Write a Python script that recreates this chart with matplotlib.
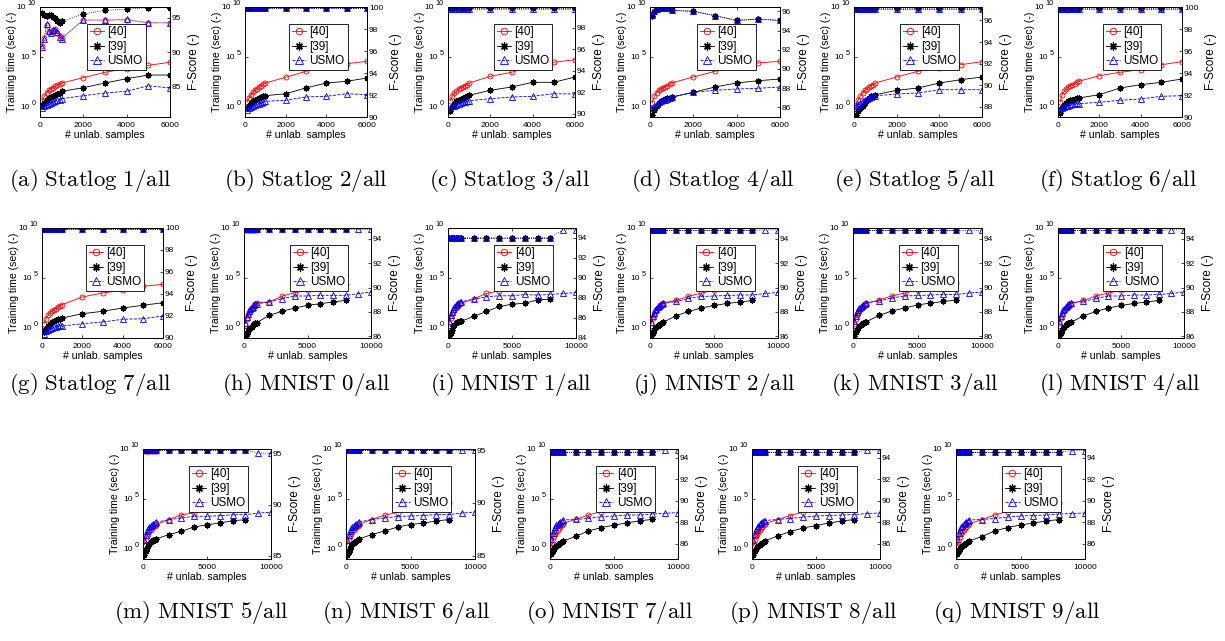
import numpy as np
import matplotlib
matplotlib.use("Agg")
import matplotlib.pyplot as plt
from matplotlib.ticker import NullLocator

plt.rcParams['font.family'] = ['Liberation Sans', 'DejaVu Sans']

# number of unlabelled samples
x_statlog = [100, 200, 300, 400, 500, 600, 700, 800, 900, 1000, 2000, 3000, 4000, 5000, 6000]
x_mnist = [100, 200, 300, 400, 500, 600, 700, 800, 900, 1000, 2000, 3000, 4000, 5000, 6000, 7000, 8000]
x_mnist_usmo = [100, 200, 300, 400, 500, 600, 700, 800, 900, 1000, 2000, 3000, 4000, 5000, 6000, 7000,
                8000, 9000, 10000]

captions = ['(a) Statlog 1/all', '(b) Statlog 2/all', '(c) Statlog 3/all', '(d) Statlog 4/all',
            '(e) Statlog 5/all', '(f) Statlog 6/all', '(g) Statlog 7/all', '(h) MNIST 0/all',
            '(i) MNIST 1/all', '(j) MNIST 2/all', '(k) MNIST 3/all', '(l) MNIST 4/all',
            '(m) MNIST 5/all', '(n) MNIST 6/all', '(o) MNIST 7/all', '(p) MNIST 8/all', '(q) MNIST 9/all']
methods = ['[40]', '[39]', 'USMO']

# training time, log10(sec)  /  F-score (-)
a_t40 = [0.57, 1.07, 1.4, 1.67, 1.8, 1.93, 2.07, 2.17, 2.27, 2.4, 2.93, 3.47, 3.83, 4.17, 4.47]
a_t39 = [0.13, 0.4, 0.67, 0.87, 1.0, 1.13, 1.23, 1.33, 1.43, 1.57, 1.93, 2.4, 2.83, 3.2, 3.2]
a_tus = [-0.1, 0.07, 0.23, 0.33, 0.4, 0.5, 0.57, 0.67, 0.73, 0.83, 1.13, 1.4, 1.57, 2.13, 1.9]
a_f40 = [90.9, 92.1, 94.0, 93.0, 92.9, 93.2, 93.4, 92.8, 92.4, 92.1, 94.7, 94.7, 94.7, 94.3, 94.3]
a_f39 = [95.7, 95.5, 95.3, 95.5, 95.5, 95.2, 95.0, 94.5, 94.3, 94.5, 95.6, 96.1, 96.3, 96.5, 96.5]
a_fus = [90.8, 92.0, 94.1, 93.1, 92.8, 93.3, 93.3, 92.9, 92.3, 92.0, 94.7, 94.7, 94.8, 94.3, 94.3]

b_t40 = [0.47, 0.9, 1.23, 1.47, 1.73, 1.8, 2.0, 2.13, 2.3, 2.4, 2.97, 3.57, 4.07, 4.33, 4.57]
b_t39 = [-0.1, 0.13, 0.4, 0.57, 0.67, 0.8, 0.9, 1.0, 1.07, 1.13, 1.33, 1.9, 2.4, 2.57, 2.9]
b_tus = [-0.27, -0.1, 0.0, 0.13, 0.2, 0.27, 0.33, 0.4, 0.47, 0.57, 0.67, 1.0, 1.07, 1.33, 1.23]
b_f40 = [99.9, 99.9, 99.9, 99.9, 99.9, 99.9, 99.9, 99.9, 99.9, 99.9, 99.9, 99.9, 99.9, 99.9, 99.9]
b_f39 = [99.95, 99.95, 99.95, 99.95, 99.95, 99.95, 99.95, 99.95, 99.95, 99.95, 99.95, 99.95, 99.95, 99.95, 99.95]
b_fus = [99.9, 99.9, 99.9, 99.9, 99.9, 99.9, 99.9, 99.9, 99.9, 99.9, 99.9, 99.9, 99.9, 99.9, 99.9]

c_t40 = [0.57, 1.07, 1.4, 1.57, 1.8, 1.9, 2.0, 2.13, 2.23, 2.4, 3.07, 3.47, 4.07, 4.47, 4.73]
c_t39 = [-0.43, 0.0, 0.33, 0.57, 0.73, 0.8, 0.9, 1.0, 1.07, 1.17, 1.67, 2.0, 2.47, 2.47, 3.0]
c_tus = [-0.1, 0.07, 0.13, 0.23, 0.33, 0.4, 0.47, 0.53, 0.6, 0.63, 0.83, 1.0, 1.07, 1.33, 1.3]
c_f40 = [99.85, 99.85, 99.85, 99.85, 99.85, 99.85, 99.85, 99.85, 99.85, 99.85, 99.85, 99.85, 99.85, 99.85, 99.85]
c_f39 = [99.85, 99.85, 99.85, 99.85, 99.85, 99.85, 99.85, 99.85, 99.85, 99.85, 99.85, 99.85, 99.85, 99.85, 99.85]
c_fus = [99.8, 99.8, 99.8, 99.8, 99.8, 99.8, 99.8, 99.8, 99.8, 99.8, 99.8, 99.8, 99.8, 99.8, 99.8]

d_t40 = [0.4, 1.07, 1.4, 1.67, 1.8, 1.9, 2.0, 2.13, 2.27, 2.4, 3.0, 3.57, 3.97, 4.4, 4.57]
d_t39 = [-0.77, -0.27, 0.13, 0.4, 0.57, 0.73, 0.8, 0.87, 0.93, 1.0, 1.47, 2.0, 2.4, 2.63, 2.8]
d_tus = [-0.1, 0.13, 0.33, 0.47, 0.57, 0.67, 0.73, 0.8, 0.87, 0.97, 1.47, 1.67, 1.8, 1.87, 2.0]
d_f40 = [95.55, 96.0, 96.2, 96.25, 96.35, 96.35, 96.35, 96.35, 96.35, 96.1, 96.0, 95.55, 95.05, 95.2, 95.05]
d_f39 = [95.5, 95.9, 96.2, 96.3, 96.35, 96.35, 96.35, 96.3, 96.3, 96.1, 96.0, 95.55, 95.05, 95.2, 95.05]
d_fus = [95.6, 96.0, 96.2, 96.3, 96.35, 96.35, 96.35, 96.35, 96.3, 96.1, 96.0, 95.55, 95.05, 95.2, 95.05]

e_t40 = [0.23, 0.73, 1.13, 1.4, 1.67, 1.8, 1.97, 2.13, 2.23, 2.4, 3.0, 3.57, 3.9, 4.23, 4.53]
e_t39 = [-0.77, -0.43, -0.1, 0.13, 0.4, 0.73, 0.9, 1.07, 1.13, 1.23, 1.67, 1.9, 2.4, 2.73, 3.0]
e_tus = [0.13, 0.23, 0.4, 0.57, 0.73, 0.8, 0.9, 1.0, 1.07, 1.13, 1.3, 1.4, 1.73, 1.73, 1.73]
e_f40 = [97.1, 97.1, 97.1, 97.1, 97.1, 97.1, 97.1, 97.1, 97.1, 97.1, 97.1, 97.1, 97.1, 97.1, 97.1]
e_f39 = [97.15, 97.15, 97.15, 97.15, 97.15, 97.15, 97.15, 97.15, 97.15, 97.15, 97.15, 97.15, 97.15, 97.15, 97.15]
e_fus = [97.1, 97.1, 97.1, 97.1, 97.1, 97.1, 97.1, 97.1, 97.1, 97.1, 97.1, 97.1, 97.1, 97.1, 97.1]

f_t40 = [0.47, 1.23, 1.57, 1.8, 2.0, 2.13, 2.23, 2.33, 2.47, 2.57, 3.13, 3.47, 3.73, 4.23, 4.53]
f_t39 = [-0.6, -0.1, 0.23, 0.4, 0.57, 0.67, 0.73, 0.8, 0.87, 0.9, 1.23, 1.9, 2.23, 2.47, 2.8]
f_tus = [-0.27, -0.1, 0.0, 0.07, 0.13, 0.2, 0.27, 0.33, 0.4, 0.33, 0.47, 0.67, 0.8, 1.07, 1.13]
f_f40 = [99.85, 99.85, 99.85, 99.85, 99.85, 99.85, 99.85, 99.85, 99.85, 99.85, 99.85, 99.85, 99.85, 99.85, 99.85]
f_f39 = [99.9, 99.9, 99.9, 99.9, 99.9, 99.9, 99.9, 99.9, 99.9, 99.9, 99.9, 99.9, 99.9, 99.9, 99.9]
f_fus = [99.85, 99.85, 99.85, 99.85, 99.85, 99.85, 99.85, 99.85, 99.85, 99.85, 99.85, 99.85, 99.85, 99.85, 99.85]

g_t40 = [0.43, 0.93, 1.27, 1.53, 1.67, 1.8, 1.93, 2.07, 2.2, 2.33, 3.1, 3.5, 3.77, 4.17, 4.37]
g_t39 = [-0.4, -0.07, 0.2, 0.4, 0.6, 0.73, 0.8, 0.87, 0.93, 1.0, 1.43, 1.67, 2.0, 2.27, 2.53]
g_tus = [-0.57, -0.33, -0.2, -0.07, 0.0, 0.07, 0.13, 0.2, 0.27, 0.2, 0.43, 0.6, 0.87, 0.93, 1.2]
g_f40 = [99.9, 99.9, 99.9, 99.9, 99.9, 99.9, 99.9, 99.9, 99.9, 99.9, 99.9, 99.9, 99.9, 99.9, 99.9]
g_f39 = [99.95, 99.95, 99.95, 99.95, 99.95, 99.95, 99.95, 99.95, 99.95, 99.95, 99.95, 99.95, 99.95, 99.95, 99.95]
g_fus = [99.9, 99.9, 99.9, 99.9, 99.9, 99.9, 99.9, 99.9, 99.9, 99.9, 99.9, 99.9, 99.9, 99.9, 99.9]

h_t40 = [0.43, 0.93, 1.27, 1.53, 1.77, 1.93, 2.1, 2.27, 2.43, 2.53, 2.6, 3.2, 3.53, 3.77, 3.93, 4.1, 4.43]
h_t39 = [-0.9, -0.57, -0.33, -0.13, 0.0, 0.13, 0.27, 0.4, 0.47, 0.53, 1.27, 1.67, 2.0, 2.27, 2.43, 2.6, 2.77]
h_tus = [0.53, 1.1, 1.43, 1.67, 1.87, 2.0, 2.13, 2.27, 2.37, 2.43, 2.6, 2.93, 3.2, 3.2, 3.27, 3.27, 3.27, 3.43, 3.6]
h_f40 = [94.75, 94.75, 94.75, 94.75, 94.75, 94.75, 94.75, 94.75, 94.75, 94.75, 94.8, 94.8, 94.8, 94.8, 94.8, 94.8, 94.8]
h_f39 = [94.8, 94.8, 94.8, 94.8, 94.8, 94.8, 94.8, 94.8, 94.8, 94.8, 94.8, 94.8, 94.8, 94.8, 94.8, 94.8, 94.8]
h_fus = [94.8, 94.8, 94.8, 94.8, 94.8, 94.8, 94.8, 94.8, 94.8, 94.8, 94.8, 94.8, 94.8, 94.8, 94.8, 94.8, 94.8,
         94.8, 94.8]

i_t40 = [0.5, 1.0, 1.4, 1.64, 1.81, 1.97, 2.1, 2.24, 2.37, 2.47, 2.9, 3.47, 3.7, 3.95, 4.1, 4.28, 4.6]
i_t39 = [-0.82, -0.49, -0.16, 0.16, 0.33, 0.46, 0.56, 0.59, 0.66, 0.66, 1.15, 1.65, 2.15, 2.38, 2.48, 2.8, 2.9]
i_tus = [0.72, 1.32, 1.64, 1.91, 2.14, 2.3, 2.4, 2.47, 2.57, 2.63, 2.87, 3.13, 3.22, 3.22, 3.35, 3.29, 3.35, 3.45, 3.55]
i_f40 = [94.0, 94.0, 94.0, 94.0, 94.0, 94.0, 94.0, 94.0, 94.0, 94.0, 94.0, 94.0, 94.0, 94.0, 94.0, 94.0, 94.0]
i_f39 = [94.0, 94.0, 94.0, 94.0, 94.0, 94.0, 94.0, 94.0, 94.0, 94.0, 94.0, 94.0, 94.0, 94.0, 94.0, 94.0, 94.0]
i_fus = [94.0, 94.0, 94.0, 94.0, 94.0, 94.0, 94.0, 94.0, 94.0, 94.0, 94.0, 94.0, 94.0, 94.0, 94.0, 94.0, 94.0,
         94.8, 94.8]

j_t40 = [0.45, 0.95, 1.3, 1.55, 1.8, 1.95, 2.1, 2.25, 2.4, 2.5, 2.75, 3.15, 3.5, 3.75, 3.95, 4.1, 4.4]
j_t39 = [-0.85, -0.5, -0.25, -0.05, 0.1, 0.2, 0.3, 0.4, 0.5, 0.55, 1.2, 1.65, 2.0, 2.25, 2.45, 2.6, 2.75]
j_tus = [0.6, 1.15, 1.5, 1.75, 1.9, 2.05, 2.15, 2.3, 2.4, 2.45, 2.65, 2.95, 3.15, 3.2, 3.25, 3.3, 3.3, 3.45, 3.55]
j_f40 = [94.7, 94.7, 94.7, 94.7, 94.7, 94.7, 94.7, 94.7, 94.7, 94.7, 94.7, 94.7, 94.7, 94.7, 94.7, 94.7, 94.7]
j_f39 = [94.7, 94.7, 94.7, 94.7, 94.7, 94.7, 94.7, 94.7, 94.7, 94.7, 94.7, 94.7, 94.7, 94.7, 94.7, 94.7, 94.7]
j_fus = [94.7, 94.7, 94.7, 94.7, 94.7, 94.7, 94.7, 94.7, 94.7, 94.7, 94.7, 94.7, 94.7, 94.7, 94.7, 94.7, 94.7,
         94.75, 94.75]

k_t40 = [0.4, 0.9, 1.25, 1.5, 1.75, 1.9, 2.05, 2.2, 2.35, 2.45, 2.8, 3.2, 3.5, 3.8, 3.95, 4.15, 4.45]
k_t39 = [-0.8, -0.45, -0.2, 0.0, 0.15, 0.3, 0.4, 0.5, 0.55, 0.6, 1.25, 1.7, 2.0, 2.3, 2.5, 2.65, 2.8]
k_tus = [0.7, 1.2, 1.55, 1.8, 1.95, 2.1, 2.2, 2.3, 2.4, 2.5, 2.7, 3.0, 3.2, 3.25, 3.3, 3.35, 3.35, 3.5, 3.6]
k_f40 = [94.7, 94.7, 94.7, 94.7, 94.7, 94.7, 94.7, 94.7, 94.7, 94.7, 94.7, 94.7, 94.7, 94.7, 94.7, 94.7, 94.7]
k_f39 = [94.7, 94.7, 94.7, 94.7, 94.7, 94.7, 94.7, 94.7, 94.7, 94.7, 94.7, 94.7, 94.7, 94.7, 94.7, 94.7, 94.7]
k_fus = [94.7, 94.7, 94.7, 94.7, 94.7, 94.7, 94.7, 94.7, 94.7, 94.7, 94.7, 94.7, 94.7, 94.7, 94.7, 94.7, 94.7,
         94.7, 94.7]

l_t40 = [0.45, 0.95, 1.3, 1.55, 1.75, 1.9, 2.05, 2.2, 2.35, 2.45, 2.75, 3.2, 3.5, 3.75, 3.95, 4.1, 4.45]
l_t39 = [-0.85, -0.5, -0.25, -0.05, 0.1, 0.25, 0.35, 0.45, 0.5, 0.55, 1.2, 1.65, 2.0, 2.25, 2.45, 2.6, 2.75]
l_tus = [0.65, 1.2, 1.5, 1.75, 1.9, 2.05, 2.2, 2.3, 2.4, 2.5, 2.65, 2.95, 3.2, 3.2, 3.3, 3.3, 3.35, 3.45, 3.6]
l_f40 = [94.7, 94.7, 94.7, 94.7, 94.7, 94.7, 94.7, 94.7, 94.7, 94.7, 94.7, 94.7, 94.7, 94.7, 94.7, 94.7, 94.7]
l_f39 = [94.7, 94.7, 94.7, 94.7, 94.7, 94.7, 94.7, 94.7, 94.7, 94.7, 94.7, 94.7, 94.7, 94.7, 94.7, 94.7, 94.7]
l_fus = [94.7, 94.7, 94.7, 94.7, 94.7, 94.7, 94.7, 94.7, 94.7, 94.7, 94.7, 94.7, 94.7, 94.7, 94.7, 94.7, 94.7,
         94.75, 94.75]

m_t40 = [0.43, 0.93, 1.27, 1.53, 1.77, 1.93, 2.1, 2.27, 2.33, 2.43, 2.93, 3.43, 3.6, 3.93, 4.17, 4.33, 4.6]
m_t39 = [-0.57, -0.23, 0.1, 0.33, 0.53, 0.67, 0.77, 0.87, 0.93, 1.0, 1.43, 1.77, 2.2, 2.43, 2.6, 2.83, 2.93]
m_tus = [0.93, 1.43, 1.77, 2.0, 2.2, 2.33, 2.43, 2.53, 2.6, 2.67, 2.93, 3.1, 3.27, 3.27, 3.33, 3.43, 3.43, 3.6, 3.67]
m_f40 = [95.25, 95.25, 95.25, 95.25, 95.25, 95.25, 95.25, 95.25, 95.25, 95.25, 95.3, 95.3, 95.3, 95.3, 95.3, 95.3, 95.3]
m_f39 = [95.3, 95.3, 95.3, 95.3, 95.3, 95.3, 95.3, 95.3, 95.3, 95.3, 95.3, 95.3, 95.3, 95.3, 95.3, 95.3, 95.3]
m_fus = [95.3, 95.3, 95.3, 95.3, 95.3, 95.3, 95.3, 95.3, 95.3, 95.3, 95.3, 95.3, 95.3, 95.3, 95.3, 95.3, 95.3,
         95.0, 95.0]

n_t40 = [0.45, 0.95, 1.3, 1.55, 1.8, 1.95, 2.1, 2.25, 2.35, 2.45, 2.95, 3.4, 3.65, 3.95, 4.15, 4.35, 4.6]
n_t39 = [-0.6, -0.25, 0.05, 0.3, 0.5, 0.65, 0.75, 0.85, 0.95, 1.0, 1.45, 1.8, 2.2, 2.45, 2.6, 2.8, 2.95]
n_tus = [0.95, 1.45, 1.8, 2.0, 2.2, 2.35, 2.45, 2.55, 2.6, 2.7, 2.95, 3.1, 3.25, 3.3, 3.35, 3.45, 3.45, 3.6, 3.7]
n_f40 = [95.0, 95.0, 95.0, 95.0, 95.0, 95.0, 95.0, 95.0, 95.0, 95.0, 95.0, 95.0, 95.0, 95.0, 95.0, 95.0, 95.0]
n_f39 = [95.0, 95.0, 95.0, 95.0, 95.0, 95.0, 95.0, 95.0, 95.0, 95.0, 95.0, 95.0, 95.0, 95.0, 95.0, 95.0, 95.0]
n_fus = [95.0, 95.0, 95.0, 95.0, 95.0, 95.0, 95.0, 95.0, 95.0, 95.0, 95.0, 95.0, 95.0, 95.0, 95.0, 95.0, 95.0,
         95.0, 95.0]

o_t40 = [0.24, 0.85, 1.26, 1.53, 1.7, 1.94, 2.14, 2.28, 2.38, 2.55, 2.96, 3.4, 3.74, 3.91, 4.08, 4.25, 4.66]
o_t39 = [-0.51, -0.17, 0.1, 0.24, 0.34, 0.44, 0.51, 0.58, 0.68, 0.78, 1.26, 1.8, 2.14, 2.38, 2.62, 2.82, 2.96]
o_tus = [1.0, 1.6, 1.94, 2.21, 2.38, 2.55, 2.65, 2.72, 2.82, 2.9, 2.96, 3.06, 3.23, 3.3, 3.4, 3.4, 3.5, 3.57, 3.64]
o_f40 = [94.5, 94.5, 94.5, 94.5, 94.5, 94.5, 94.5, 94.5, 94.5, 94.5, 94.5, 94.5, 94.5, 94.5, 94.5, 94.5, 94.5]
o_f39 = [94.5, 94.5, 94.5, 94.5, 94.5, 94.5, 94.5, 94.5, 94.5, 94.5, 94.5, 94.5, 94.5, 94.5, 94.5, 94.5, 94.5]
o_fus = [94.5, 94.5, 94.5, 94.5, 94.5, 94.5, 94.5, 94.5, 94.5, 94.5, 94.5, 94.5, 94.5, 94.5, 94.5, 94.5, 94.5,
         94.75, 94.75]

p_t40 = [0.3, 0.9, 1.3, 1.55, 1.75, 1.95, 2.1, 2.25, 2.4, 2.5, 2.95, 3.35, 3.7, 3.9, 4.1, 4.3, 4.6]
p_t39 = [-0.55, -0.2, 0.05, 0.25, 0.35, 0.45, 0.55, 0.6, 0.7, 0.8, 1.3, 1.75, 2.1, 2.35, 2.6, 2.8, 2.95]
p_tus = [0.95, 1.55, 1.9, 2.15, 2.35, 2.5, 2.6, 2.7, 2.8, 2.85, 2.95, 3.05, 3.2, 3.3, 3.35, 3.4, 3.45, 3.55, 3.6]
p_f40 = [94.5, 94.5, 94.5, 94.5, 94.5, 94.5, 94.5, 94.5, 94.5, 94.5, 94.5, 94.5, 94.5, 94.5, 94.5, 94.5, 94.5]
p_f39 = [94.5, 94.5, 94.5, 94.5, 94.5, 94.5, 94.5, 94.5, 94.5, 94.5, 94.5, 94.5, 94.5, 94.5, 94.5, 94.5, 94.5]
p_fus = [94.5, 94.5, 94.5, 94.5, 94.5, 94.5, 94.5, 94.5, 94.5, 94.5, 94.5, 94.5, 94.5, 94.5, 94.5, 94.5, 94.5,
         94.7, 94.7]

q_t40 = [0.3, 0.85, 1.25, 1.5, 1.7, 1.9, 2.1, 2.25, 2.4, 2.5, 2.95, 3.4, 3.75, 3.9, 4.1, 4.25, 4.6]
q_t39 = [-0.5, -0.15, 0.1, 0.25, 0.35, 0.45, 0.55, 0.6, 0.7, 0.8, 1.25, 1.8, 2.15, 2.4, 2.6, 2.8, 2.95]
q_tus = [1.0, 1.6, 1.95, 2.2, 2.35, 2.5, 2.6, 2.7, 2.8, 2.9, 2.95, 3.05, 3.2, 3.3, 3.35, 3.4, 3.5, 3.55, 3.6]
q_f40 = [94.5, 94.5, 94.5, 94.5, 94.5, 94.5, 94.5, 94.5, 94.5, 94.5, 94.5, 94.5, 94.5, 94.5, 94.5, 94.5, 94.5]
q_f39 = [94.5, 94.5, 94.5, 94.5, 94.5, 94.5, 94.5, 94.5, 94.5, 94.5, 94.5, 94.5, 94.5, 94.5, 94.5, 94.5, 94.5]
q_fus = [94.5, 94.5, 94.5, 94.5, 94.5, 94.5, 94.5, 94.5, 94.5, 94.5, 94.5, 94.5, 94.5, 94.5, 94.5, 94.5, 94.5,
         94.65, 94.65]

# right-axis (F-score) limits and ticks per panel
f_lims = [(80.6, 96.6), (90, 100), (89.7, 99.95), (85.0, 96.45), (87.07, 97.24), (90, 100), (90, 100),
          (85.85, 94.9), (84, 94.97), (85.85, 94.9), (85.85, 94.9), (85.85, 94.9),
          (84.7, 95.4), (84.7, 95.1), (84.56, 94.8), (84.56, 94.8), (84.56, 94.8)]
f_ticks = [[85, 90, 95], [90, 92, 94, 96, 98, 100], [90, 92, 94, 96, 98], [86, 88, 90, 92, 94, 96],
           [88, 90, 92, 94, 96], [90, 92, 94, 96, 98, 100], [90, 92, 94, 96, 98, 100],
           [86, 88, 90, 92, 94], [84, 86, 88, 90, 92, 94], [86, 88, 90, 92, 94], [86, 88, 90, 92, 94],
           [86, 88, 90, 92, 94], [85, 90, 95], [85, 90, 95], [86, 88, 90, 92, 94], [86, 88, 90, 92, 94],
           [86, 88, 90, 92, 94]]
t_ticks = [0, 5, 10]   # log10 of the training-time ticks

times = [(a_t40, a_t39, a_tus), (b_t40, b_t39, b_tus), (c_t40, c_t39, c_tus), (d_t40, d_t39, d_tus),
         (e_t40, e_t39, e_tus), (f_t40, f_t39, f_tus), (g_t40, g_t39, g_tus), (h_t40, h_t39, h_tus),
         (i_t40, i_t39, i_tus), (j_t40, j_t39, j_tus), (k_t40, k_t39, k_tus), (l_t40, l_t39, l_tus),
         (m_t40, m_t39, m_tus), (n_t40, n_t39, n_tus), (o_t40, o_t39, o_tus), (p_t40, p_t39, p_tus),
         (q_t40, q_t39, q_tus)]
fscores = [(a_f40, a_f39, a_fus), (b_f40, b_f39, b_fus), (c_f40, c_f39, c_fus), (d_f40, d_f39, d_fus),
           (e_f40, e_f39, e_fus), (f_f40, f_f39, f_fus), (g_f40, g_f39, g_fus), (h_f40, h_f39, h_fus),
           (i_f40, i_f39, i_fus), (j_f40, j_f39, j_fus), (k_f40, k_f39, k_fus), (l_f40, l_f39, l_fus),
           (m_f40, m_f39, m_fus), (n_f40, n_f39, n_fus), (o_f40, o_f39, o_fus), (p_f40, p_f39, p_fus),
           (q_f40, q_f39, q_fus)]

# layout in pixels
W, H = 1225, 641
row_top = [7, 228, 449]
ax_h = 110
ax_row = [0, 0, 0, 0, 0, 0, 1, 1, 1, 1, 1, 1, 2, 2, 2, 2, 2]
ax_left = [40, 245, 448, 650, 854, 1058, 42, 244, 448, 650, 853, 1058, 143, 346, 550, 752, 956]
ax_w = [130, 122, 127, 130, 128, 124, 121, 127, 128, 128, 129, 126, 128, 129, 128, 128, 129]
cap_x = [90, 306, 510, 713, 915, 1118, 90, 306, 511, 714, 915, 1120, 201, 406, 610, 813, 1017]
cap_y = [180, 385, 613]

styles = [dict(color='r', marker='o', ms=3.6, mew=0.6),
          dict(color='k', marker=(8, 2, 0), ms=4.4, mew=0.9),
          dict(color='b', marker='^', ms=4.4, mew=0.6)]
time_ls = ['-', '-', '--']

fig = plt.figure(figsize=(12.25, 6.41), dpi=100)

for i in range(17):
    r = ax_row[i]
    ax = fig.add_axes([ax_left[i] / W, 1 - (row_top[r] + ax_h) / H, ax_w[i] / W, ax_h / H])
    statlog = i < 7
    xs = [x_statlog] * 3 if statlog else [x_mnist, x_mnist, x_mnist_usmo]

    for k in range(3):
        st = styles[k]
        ax.plot(xs[k], 10.0 ** np.asarray(times[i][k]), linestyle=time_ls[k], color=st['color'],
                marker=st['marker'], ms=st['ms'], mfc='none', mec=st['color'], mew=st['mew'], lw=0.6,
                label=methods[k])
    ax.set_yscale('log')
    ax.set_ylim(0.1, 1e10)
    ax.set_yticks([10.0 ** v for v in t_ticks])
    ax.set_yticklabels([])
    ax.yaxis.set_minor_locator(NullLocator())
    if statlog:
        ax.set_xlim(0, 6000)
        ax.set_xticks([0, 2000, 4000, 6000])
    else:
        ax.set_xlim(0, 10000)
        ax.set_xticks([0, 5000, 10000])
    ax.tick_params(axis='both', direction='in', length=2, width=0.5, labelsize=6, top=True)
    ax.tick_params(axis='x', pad=3.5)
    ax.set_xlabel('# unlab. samples', fontsize=7.6, labelpad=0.5)
    ax.set_ylabel('Training time (sec) (-)', fontsize=7.6)
    ax.yaxis.set_label_coords(-23.0 / ax_w[i], 0.5)

    # MATLAB-style "10 ^exp" tick labels with a full-size exponent
    ytr = ax.get_yaxis_transform()
    for v in t_ticks:
        e = str(v)
        ax.annotate(e, xy=(0, 10.0 ** v), xycoords=ytr, xytext=(-2.8, 2.2),
                    textcoords='offset points', ha='right', va='center', fontsize=5.3)
        ax.annotate('10', xy=(0, 10.0 ** v), xycoords=ytr,
                    xytext=(-2.8 - 2.95 * len(e) - 1.3, -0.6),
                    textcoords='offset points', ha='right', va='center', fontsize=6)

    ax2 = ax.twinx()
    for k in range(3):
        st = styles[k]
        ax2.plot(xs[k], fscores[i][k], linestyle=':', color=st['color'], marker=st['marker'],
                 ms=st['ms'], mfc='none', mec=st['color'], mew=st['mew'], lw=0.6)
    ax2.set_ylim(*f_lims[i])
    ax2.set_yticks(f_ticks[i])
    ax2.tick_params(axis='y', direction='in', length=2, width=0.5, labelsize=6, pad=1.5)
    ax2.set_ylabel('F-Score (-)', fontsize=8.5, labelpad=5)
    for a in (ax, ax2):
        for s in a.spines.values():
            s.set_linewidth(0.6)

    leg = ax2.legend(handles=ax.get_lines(), loc='upper left', bbox_to_anchor=(0.36, 0.85),
                     fontsize=8.5, handlelength=1.2, handletextpad=0.3, labelspacing=0.2,
                     borderpad=0.25, borderaxespad=0, fancybox=False, markerscale=1.3, framealpha=1)
    leg.get_frame().set_edgecolor('k')
    leg.get_frame().set_linewidth(0.6)

    cap = captions[i].replace(' ', r'\ ')
    fig.text(cap_x[i] / W, 1 - cap_y[r] / H, r'$\mathrm{' + cap + '}$', ha='center', va='center',
             fontsize=16.5, math_fontfamily='cm')

fig.savefig('out.png', dpi=100)
